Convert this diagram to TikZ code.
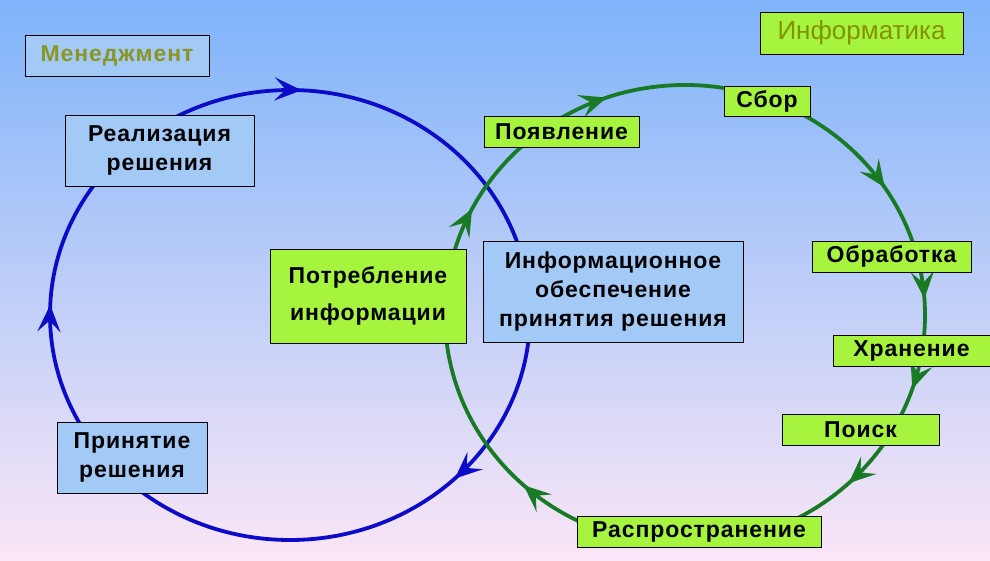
\documentclass[tikz,border=0pt]{standalone}
\usepackage{fontspec}
\setmainfont{Liberation Sans}
\usepackage{tikz}
\usetikzlibrary{arrows.meta,decorations.markings}
\definecolor{bgtop}{HTML}{7EB4FA}
\definecolor{bgmid}{HTML}{BCD2EE}
\definecolor{bgbot}{HTML}{FAE6F6}
\definecolor{boxblue}{HTML}{A3C9F6}
\definecolor{boxgreen}{HTML}{A6F43E}
\definecolor{mgmtline}{HTML}{0C0CC8}
\definecolor{infoline}{HTML}{187A25}
\definecolor{mgmttext}{HTML}{8A9626}
\definecolor{infotext}{HTML}{849200}
\tikzset{cyctip/.tip={Stealth[length=27pt,width=23pt,inset=11pt]}}

\begin{document}
\begin{tikzpicture}[x=1pt,y=1pt]
    \tikzstyle{box} = [draw=black, line width=0.9pt, rectangle, inner sep=0pt, align=center, text centered, font=\fontsize{23}{29}\selectfont\bfseries\addfontfeatures{LetterSpace=4}]
    \tikzstyle{bluebox} = [box, fill=boxblue]
    \tikzstyle{greenbox} = [box, fill=boxgreen]
    \tikzstyle{loop} = [line width=3.8pt, postaction={decorate}]
    \useasboundingbox (0,0) rectangle (990,560);
    \clip (0,0) rectangle (990,560);
    \shade [top color=bgtop, middle color=bgmid, bottom color=bgbot] (0,0) rectangle (990,560);

    \coordinate (mgmtc) at (290,245);
    \coordinate (infoc) at (685,245);

    \draw [loop, color=mgmtline, decoration={markings,
        mark=at position 0.127 with {\arrow{cyctip}},
        mark=at position 0.507 with {\arrow{cyctip}},
        mark=at position 0.758 with {\arrow{cyctip}}}]
        (mgmtc) ++(240,0) arc [start angle=0, delta angle=-360, x radius=240, y radius=225];
    \draw [loop, color=infoline, decoration={markings,
        mark=at position 0.158 with {\arrow{cyctip}},
        mark=at position 0.239 with {\arrow{cyctip}},
        mark=at position 0.301 with {\arrow{cyctip}},
        mark=at position 0.379 with {\arrow{cyctip}},
        mark=at position 0.619 with {\arrow{cyctip}},
        mark=at position 0.825 with {\arrow{cyctip}},
        mark=at position 0.946 with {\arrow{cyctip}}}]
        (infoc) ++(0,230) arc [start angle=90, delta angle=-360, x radius=240, y radius=230];

    \node (mgmt) [box, fill=boxblue, text=mgmttext, minimum width=184, minimum height=41] at (117,504.5) {Менеджмент};
    \node (info) [box, fill=boxgreen, text=infotext, minimum width=203, minimum height=42, font=\fontsize{26}{30}\selectfont] at (861.5,527) {Информатика};

    \node (realize) [bluebox, minimum width=189, minimum height=71] at (159.5,409.5) {Реализация\\решения};
    \node (accept) [bluebox, minimum width=150, minimum height=71] at (132,102.5) {Принятие\\решения};
    \node (consume) [greenbox, minimum width=196, minimum height=94] at (368,264) {Потребление\\[8pt]информации};
    \node (support) [bluebox, minimum width=260, minimum height=101] at (613,268.5) {Информационное\\обеспечение\\принятия решения};

    \node (appear) [greenbox, minimum width=155, minimum height=31] at (561.5,428.5) {Появление};
    \node (collect) [greenbox, minimum width=86, minimum height=30] at (767,459) {Сбор};
    \node (process) [greenbox, minimum width=159, minimum height=31] at (891.5,303.5) {Обработка};
    \node (store) [greenbox, minimum width=167, minimum height=31] at (916.5,209.5) {\hspace*{-10pt}Хранение};
    \node (search) [greenbox, minimum width=157, minimum height=31] at (860.5,130.5) {Поиск};
    \node (spread) [greenbox, minimum width=244, minimum height=31] at (699,28.5) {Распространение};
  \end{tikzpicture}
\end{document}
